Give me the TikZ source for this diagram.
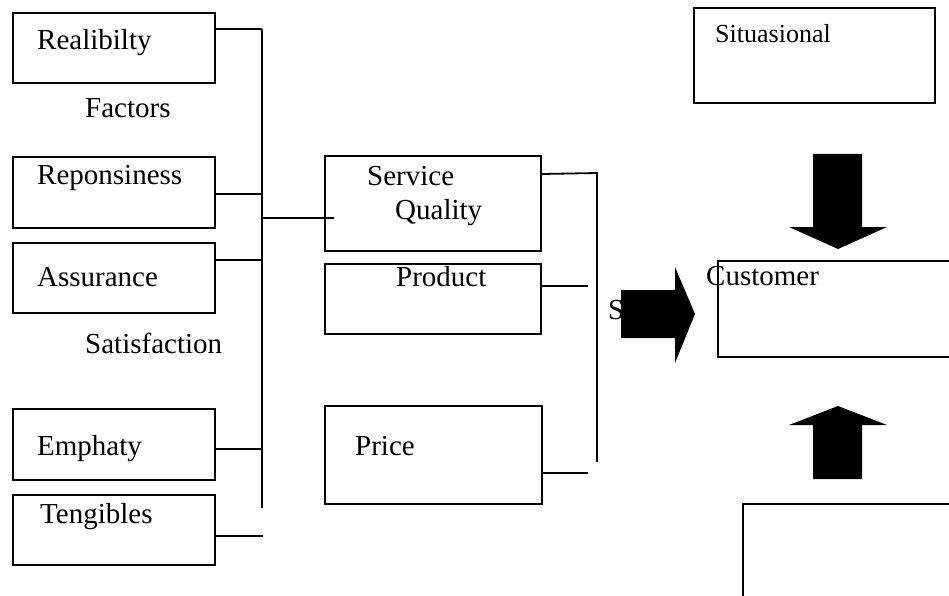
\documentclass[tikz,border=0pt]{standalone}
\usepackage{fontspec}
\setmainfont{Liberation Serif}
\begin{document}
\begin{tikzpicture}[x=1pt,y=-1pt,
  box/.style={draw, line width=2pt, anchor=north west, inner sep=0pt},
  lbl/.style={anchor=base west, inner sep=0pt, font=\fontsize{29}{31}\selectfont},
  smalllbl/.style={anchor=base west, inner sep=0pt, font=\fontsize{26}{28}\selectfont},
  wire/.style={line width=1.8pt},
  bigarrow/.style={fill=black}]
\useasboundingbox (0,0) rectangle (949,596);
\clip (0,0) rectangle (949,596);

% left column: the five dimensions
\node[box, minimum width=202pt, minimum height=70pt] (rel) at (12,12) {};
\node[lbl] (relT) at (37,50) {Realibilty};
\node[lbl] (factors) at (85,118) {Factors};
\node[box, minimum width=202pt, minimum height=71pt] (resp) at (12,156) {};
\node[lbl] (respT) at (37,184) {Reponsiness};
\node[box, minimum width=202pt, minimum height=70pt] (ass) at (12,242) {};
\node[lbl] (assT) at (37,286) {Assurance};
\node[lbl] (satis) at (85,353) {Satisfaction};
\node[box, minimum width=202pt, minimum height=71pt] (emp) at (12,408) {};
\node[lbl] (empT) at (37,455) {Emphaty};
\node[box, minimum width=202pt, minimum height=70pt] (tang) at (12,494) {};
\node[lbl] (tangT) at (40,523) {Tengibles};

% bus joining the dimensions
\coordinate (busTop) at (262,29);
\coordinate (busBot) at (262,508);
\coordinate (busResp) at (262,194);
\coordinate (busAss) at (262,260);
\coordinate (busEmp) at (262,449);
\coordinate (busTang) at (263,536);
\coordinate (busSQ) at (262,218);
\coordinate (sqIn) at (334,218);
\draw[wire] (busTop) -- (busBot);
\draw[wire] (rel.east |- busTop) -- (busTop);
\draw[wire] (resp.east |- busResp) -- (busResp);
\draw[wire] (ass.east |- busAss) -- (busAss);
\draw[wire] (emp.east |- busEmp) -- (busEmp);
\draw[wire] (tang.east |- busTang) -- (busTang);

% middle column
\node[box, minimum width=216pt, minimum height=95pt] (sq) at (324,155) {};
\node[lbl] (sqT1) at (367,185) {Service};
\node[lbl] (sqT2) at (395,219) {Quality};
\node[box, minimum width=216pt, minimum height=70pt] (prod) at (324,263) {};
\node[lbl] (prodT) at (396,286) {Product};
\node[box, minimum width=217pt, minimum height=98pt] (price) at (324,405) {};
\node[lbl] (priceT) at (355,455) {Price};
\draw[wire] (busSQ) -- (sqIn);

% second bus
\coordinate (bus2Top) at (597,173);
\coordinate (bus2Bot) at (597,462);
\coordinate (prodOut) at (588,286);
\coordinate (priceOut) at (588,473);
\draw[wire] (sq.east |- 0,174) -- (bus2Top) -- (bus2Bot);
\draw[wire] (prod.east |- prodOut) -- (prodOut);
\draw[wire] (price.east |- priceOut) -- (priceOut);

% label partly hidden behind the arrow
\node[lbl] (sLbl) at (608,319) {S};

% block arrows
\fill[bigarrow] (621,290) -- (675,290) -- (675,267) -- (695,314) -- (675,363) -- (675,338) -- (621,338) -- cycle;
\fill[bigarrow] (813,154) -- (862,154) -- (862,227) -- (887,227) -- (838,249) -- (789,227) -- (813,227) -- cycle;
\fill[bigarrow] (838,406) -- (887,425) -- (862,425) -- (862,479) -- (813,479) -- (813,425) -- (789,425) -- cycle;

% right column
\node[box, minimum width=241pt, minimum height=95pt] (sit) at (693,7) {};
\node[smalllbl] (sitT) at (715,43) {Situasional};
\node[box, minimum width=260pt, minimum height=96pt] (cust) at (717,260) {};
\node[lbl] (custT) at (706,285) {Customer};
\node[box, minimum width=240pt, minimum height=130pt] (bottom) at (742,503) {};
\end{tikzpicture}
\end{document}
